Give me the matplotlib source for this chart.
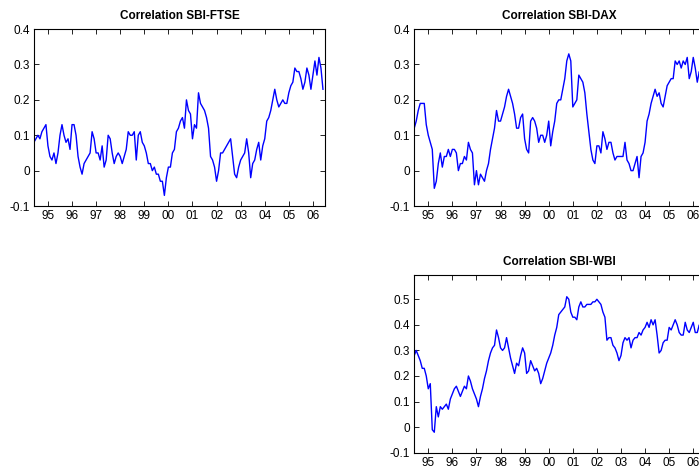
import numpy as np
import pandas as pd
import matplotlib
matplotlib.use('Agg')
import matplotlib.pyplot as plt

plt.rcParams['font.family'] = ['Liberation Sans', 'DejaVu Sans']

# monthly observations, June 1994 - June 2006
dates = pd.date_range('1994-06-01', '2006-06-01', freq='MS')
t = dates.year + (dates.month - 1) / 12.0

sbi_ftse = [
    0.08, 0.09, 0.10, 0.09, 0.11, 0.12, 0.13, 0.07, 0.04, 0.03, 0.05, 0.02,
    0.05, 0.10, 0.13, 0.10, 0.08, 0.09, 0.06, 0.13, 0.13, 0.10, 0.04, 0.01,
    -0.01, 0.02, 0.03, 0.04, 0.05, 0.11, 0.09, 0.05, 0.05, 0.03, 0.07, 0.01,
    0.03, 0.10, 0.09, 0.05, 0.02, 0.04, 0.05, 0.04, 0.02, 0.04, 0.06, 0.11,
    0.10, 0.10, 0.11, 0.03, 0.10, 0.11, 0.08, 0.07, 0.05, 0.02, 0.02, 0.00,
    0.01, -0.01, -0.01, -0.03, -0.03, -0.07, -0.02, 0.01, 0.01, 0.05, 0.06, 0.11,
    0.12, 0.14, 0.15, 0.12, 0.20, 0.17, 0.16, 0.09, 0.13, 0.12, 0.22, 0.19,
    0.18, 0.17, 0.15, 0.12, 0.04, 0.03, 0.01, -0.03, 0.00, 0.05, 0.05, 0.06,
    0.07, 0.08, 0.09, 0.04, -0.01, -0.02, 0.01, 0.03, 0.04, 0.05, 0.09, 0.05,
    -0.02, 0.02, 0.03, 0.06, 0.08, 0.03, 0.07, 0.09, 0.14, 0.15, 0.17, 0.20,
    0.23, 0.20, 0.18, 0.19, 0.20, 0.19, 0.19, 0.22, 0.24, 0.25, 0.29, 0.28,
    0.28, 0.26, 0.23, 0.25, 0.29, 0.27, 0.23, 0.27, 0.31, 0.27, 0.32, 0.29,
    0.23,
]

sbi_dax = [
    0.12, 0.14, 0.17, 0.19, 0.19, 0.19, 0.13, 0.10, 0.08, 0.06, -0.05, -0.03,
    0.02, 0.05, 0.01, 0.04, 0.04, 0.06, 0.04, 0.06, 0.06, 0.05, 0.00, 0.02,
    0.02, 0.04, 0.03, 0.08, 0.06, 0.05, -0.04, 0.00, -0.04, -0.01, -0.02, -0.03,
    0.00, 0.02, 0.06, 0.09, 0.12, 0.17, 0.14, 0.14, 0.16, 0.18, 0.21, 0.23,
    0.21, 0.19, 0.16, 0.12, 0.12, 0.15, 0.16, 0.09, 0.06, 0.05, 0.14, 0.15,
    0.14, 0.12, 0.08, 0.10, 0.10, 0.08, 0.10, 0.14, 0.07, 0.11, 0.14, 0.19,
    0.20, 0.20, 0.23, 0.26, 0.31, 0.33, 0.31, 0.18, 0.19, 0.20, 0.27, 0.26,
    0.25, 0.22, 0.16, 0.11, 0.06, 0.03, 0.02, 0.07, 0.07, 0.05, 0.11, 0.09,
    0.06, 0.08, 0.08, 0.05, 0.03, 0.04, 0.04, 0.04, 0.04, 0.08, 0.03, 0.02,
    0.00, 0.00, 0.02, 0.04, -0.02, 0.04, 0.05, 0.08, 0.14, 0.16, 0.19, 0.21,
    0.23, 0.21, 0.22, 0.19, 0.18, 0.21, 0.24, 0.25, 0.26, 0.26, 0.31, 0.30,
    0.31, 0.29, 0.31, 0.30, 0.32, 0.26, 0.28, 0.32, 0.29, 0.25, 0.28, 0.27,
    0.26,
]

sbi_wbi = [
    0.28, 0.30, 0.28, 0.26, 0.23, 0.23, 0.20, 0.15, 0.17, -0.01, -0.02, 0.08,
    0.04, 0.08, 0.07, 0.08, 0.09, 0.07, 0.11, 0.13, 0.15, 0.16, 0.14, 0.12,
    0.14, 0.16, 0.15, 0.20, 0.18, 0.15, 0.13, 0.11, 0.08, 0.12, 0.15, 0.19,
    0.22, 0.26, 0.29, 0.31, 0.32, 0.38, 0.35, 0.31, 0.30, 0.31, 0.35, 0.31,
    0.27, 0.24, 0.21, 0.25, 0.24, 0.28, 0.31, 0.29, 0.21, 0.22, 0.26, 0.24,
    0.22, 0.23, 0.21, 0.17, 0.19, 0.22, 0.25, 0.27, 0.29, 0.32, 0.36, 0.39,
    0.44, 0.45, 0.46, 0.47, 0.51, 0.50, 0.45, 0.43, 0.43, 0.42, 0.47, 0.49,
    0.47, 0.47, 0.48, 0.48, 0.48, 0.49, 0.49, 0.50, 0.49, 0.48, 0.45, 0.43,
    0.34, 0.35, 0.35, 0.32, 0.31, 0.29, 0.26, 0.28, 0.33, 0.35, 0.34, 0.35,
    0.31, 0.34, 0.35, 0.35, 0.37, 0.36, 0.38, 0.39, 0.41, 0.39, 0.42, 0.40,
    0.42, 0.36, 0.29, 0.30, 0.33, 0.34, 0.34, 0.39, 0.38, 0.40, 0.42, 0.40,
    0.37, 0.36, 0.36, 0.41, 0.38, 0.37, 0.39, 0.41, 0.37, 0.37, 0.40, 0.39,
    0.38,
]

year_ticks = list(range(1995, 2007))
year_labels = ['95', '96', '97', '98', '99', '00', '01', '02', '03', '04', '05', '06']
ticks_top = [-0.1, 0, 0.1, 0.2, 0.3, 0.4]
ticks_wbi = [-0.1, 0, 0.1, 0.2, 0.3, 0.4, 0.5]

fig = plt.figure(figsize=(6.99, 4.68), dpi=100)

panels = [
    ('Correlation SBI-FTSE', sbi_ftse, [0.0486, 0.5598, 0.4163, 0.378], (-0.1, 0.4), ticks_top),
    ('Correlation SBI-DAX', sbi_dax, [0.5927, 0.5598, 0.4163, 0.378], (-0.1, 0.4), ticks_top),
    ('Correlation SBI-WBI', sbi_wbi, [0.5927, 0.0327, 0.4163, 0.3797], (-0.1, 0.595), ticks_wbi),
]

for title, vals, pos, ylim, yt in panels:
    ax = fig.add_axes(pos)
    ax.plot(t, vals, color='#0000ff', lw=1.0)
    ax.set_xlim(1994.42, 2006.5)
    ax.set_ylim(*ylim)
    ax.set_xticks(year_ticks)
    ax.set_xticklabels(year_labels)
    ax.set_yticks(yt)
    ax.set_yticklabels(['%g' % v for v in yt])
    ax.tick_params(direction='in', length=3.5, width=0.6, top=True, right=True,
                   labelsize=8.5, pad=3)
    for s in ax.spines.values():
        s.set_linewidth(0.8)
    ax.set_title(title, fontsize=8.5, fontweight='bold', pad=7)

fig.savefig('out.png', dpi=100)
